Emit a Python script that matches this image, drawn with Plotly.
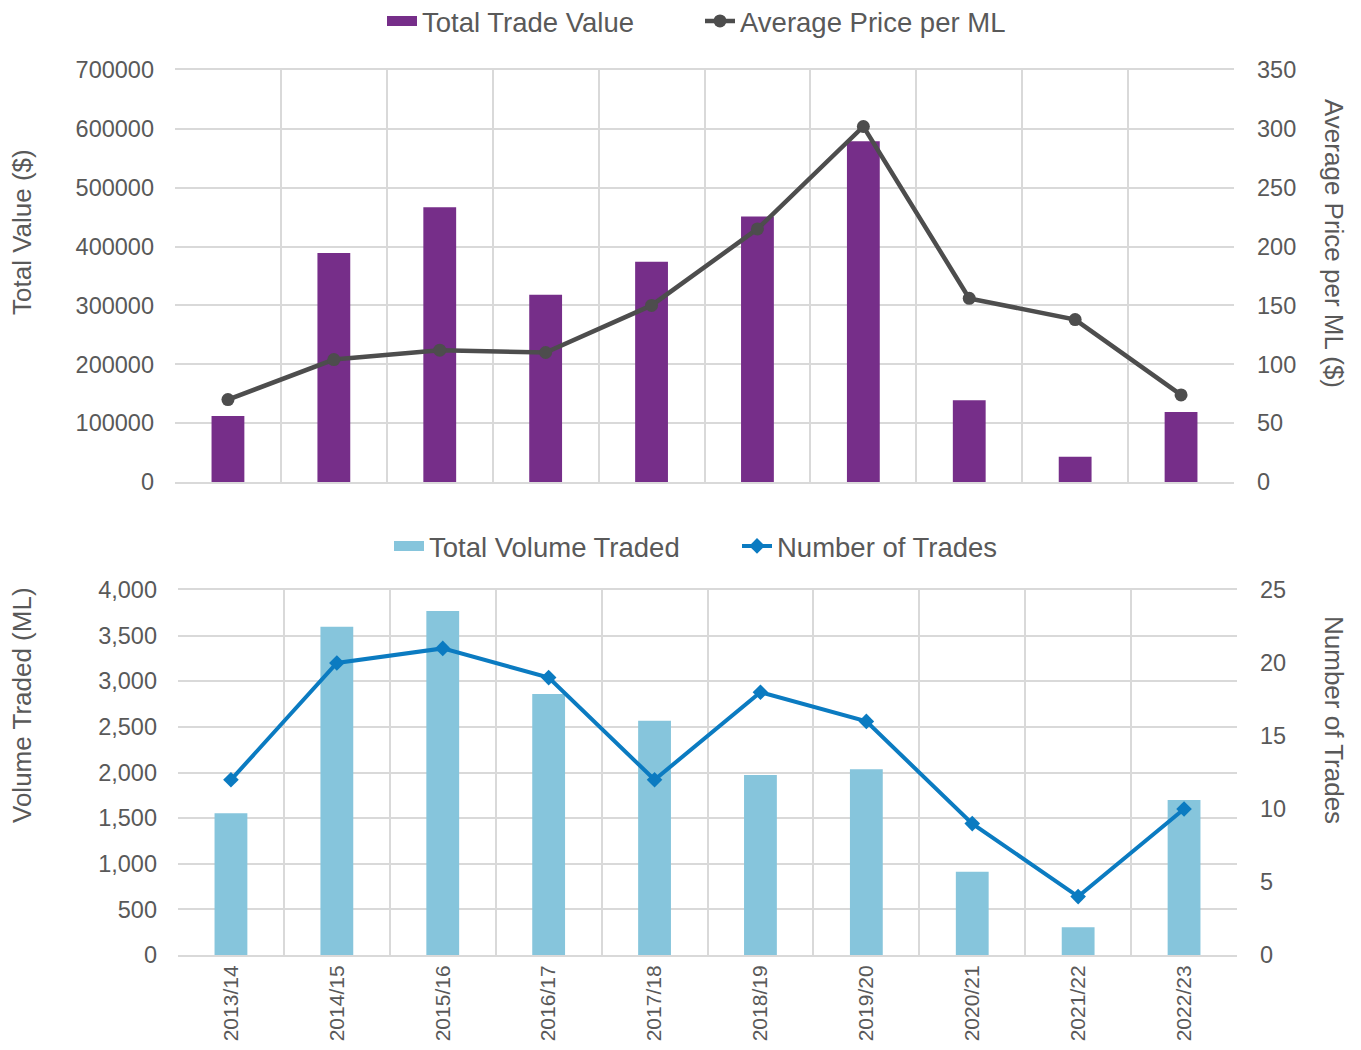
import plotly.graph_objects as go

years = ["2013/14", "2014/15", "2015/16", "2016/17", "2017/18",
         "2018/19", "2019/20", "2020/21", "2021/22", "2022/23"]
total_trade_value = [112000, 389000, 467000, 318000, 374000,
                     451000, 579000, 139000, 43000, 119000]
avg_price_per_ml = [70, 104, 112, 110, 150, 215, 302, 156, 138, 74]
total_volume = [1553, 3598, 3770, 2860, 2568, 1973, 2035, 913, 303, 1699]
num_trades = [12, 20, 21, 19, 12, 18, 16, 9, 4, 10]

FONT = "Liberation Sans, Arial, sans-serif"
TXT = "#595959"
GRID = "#d9d9d9"
PURPLE = "#762E89"
LBLUE = "#86C5DC"
DGRAY = "#4D4D4D"
BLUE = "#0B7BC1"

# page has an 8px body margin; size figure so the page fits the 1361x1050 window
OFF = 8
W, H = 1361 - 2 * OFF, 1050 - 2 * OFF
def fx(px): return (px - OFF) / W
def fy(py): return 1 - (py - OFF) / H

fig = go.Figure()
fig.add_trace(go.Bar(x=years, y=total_trade_value, name="Total Trade Value",
                     marker=dict(color=PURPLE, line=dict(width=0)), width=0.31,
                     xaxis="x", yaxis="y", showlegend=False))
fig.add_trace(go.Scatter(x=[None], y=[None], name="Total Trade Value", mode="lines",
                         line=dict(color=PURPLE, width=13),
                         xaxis="x", yaxis="y", legend="legend"))
fig.add_trace(go.Scatter(x=years, y=avg_price_per_ml, name="Average Price per ML",
                         mode="lines+markers", line=dict(color=DGRAY, width=4.5),
                         marker=dict(symbol="circle", size=13, color=DGRAY),
                         xaxis="x", yaxis="y2", legend="legend"))
fig.add_trace(go.Bar(x=years, y=total_volume, name="Total Volume Traded",
                     marker=dict(color=LBLUE, line=dict(width=0)), width=0.31,
                     xaxis="x2", yaxis="y3", showlegend=False))
fig.add_trace(go.Scatter(x=[None], y=[None], name="Total Volume Traded", mode="lines",
                         line=dict(color=LBLUE, width=13),
                         xaxis="x2", yaxis="y3", legend="legend2"))
fig.add_trace(go.Scatter(x=years, y=num_trades, name="Number of Trades",
                         mode="lines+markers", line=dict(color=BLUE, width=4),
                         marker=dict(symbol="diamond", size=12, color=BLUE),
                         xaxis="x2", yaxis="y4", legend="legend2"))

xcommon = dict(type="category", tickson="boundaries", showgrid=True, gridcolor=GRID,
               gridwidth=2, showline=True, linecolor=GRID, linewidth=2, mirror=True,
               ticks="", zeroline=False, automargin=False,
               categoryorder="array", categoryarray=years,
               range=[-0.5, len(years) - 0.5], autorange=False)
ytick_font = dict(family=FONT, size=23.5, color=TXT)
yleft = dict(zeroline=False, tickfont=ytick_font, ticklabelstandoff=20, automargin=False)
yright = dict(zeroline=False, tickfont=ytick_font, ticklabelstandoff=22, automargin=False)

fig.update_layout(
    width=W, height=H,
    margin=dict(l=0, r=0, t=0, b=0, autoexpand=False),
    paper_bgcolor="white", plot_bgcolor="white",
    font=dict(family=FONT, color=TXT, size=22),
    showlegend=True,
    xaxis=dict(domain=[fx(175), fx(1234)], anchor="y", showticklabels=False, **xcommon),
    yaxis=dict(domain=[fy(482), fy(70)], anchor="x", range=[0, 700000], dtick=100000,
               tickformat="d", showgrid=True, gridcolor=GRID, gridwidth=2, **yleft),
    yaxis2=dict(overlaying="y", anchor="x", side="right", range=[0, 350], dtick=50,
                showgrid=False, **yright),
    xaxis2=dict(domain=[fx(178), fx(1237)], anchor="y3", showticklabels=True,
                tickangle=-90, tickfont=dict(family=FONT, size=21, color=TXT),
                ticklabelstandoff=0, **xcommon),
    yaxis3=dict(domain=[fy(955), fy(590)], anchor="x2", range=[0, 4000], dtick=500,
                tickformat=",d", showgrid=True, gridcolor=GRID, gridwidth=2, **yleft),
    yaxis4=dict(overlaying="y3", anchor="x2", side="right", range=[0, 25], dtick=5,
                showgrid=False, **yright),
    legend=dict(orientation="h", x=fx(382), xanchor="left", y=fy(21), yanchor="middle",
                font=dict(family=FONT, size=27.5, color=TXT), bgcolor="rgba(0,0,0,0)",
                traceorder="normal", entrywidth=273, entrywidthmode="pixels"),
    legend2=dict(orientation="h", x=fx(389), xanchor="left", y=fy(546), yanchor="middle",
                 font=dict(family=FONT, size=27.5, color=TXT), bgcolor="rgba(0,0,0,0)",
                 traceorder="normal", entrywidth=303, entrywidthmode="pixels"),
)

annos = [
    dict(text="Total Value ($)", x=fx(22), y=fy(232), textangle=-90),
    dict(text="Average Price per ML ($)", x=fx(1334), y=fy(243), textangle=90),
    dict(text="Volume Traded (ML)", x=fx(22), y=fy(705), textangle=-90),
    dict(text="Number of Trades", x=fx(1334), y=fy(720), textangle=90),
]
for a in annos:
    fig.add_annotation(xref="paper", yref="paper", showarrow=False,
                       xanchor="center", yanchor="middle",
                       font=dict(family=FONT, size=26, color=TXT), **a)

fig.write_html("out.html")
